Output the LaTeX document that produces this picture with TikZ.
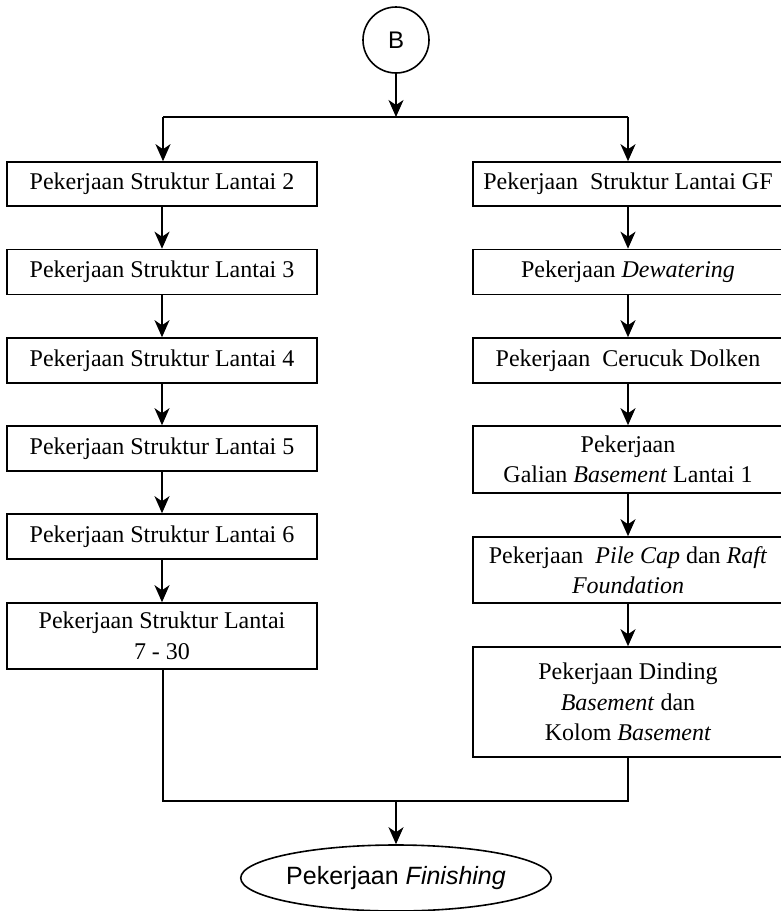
\documentclass[tikz,border=0pt]{standalone}
\usepackage{fontspec}
\setmainfont{Liberation Serif}
\newfontfamily\sansf{Liberation Sans}
\usetikzlibrary{arrows.meta,shapes.geometric}
\begin{document}
\begin{tikzpicture}[x=1pt,y=-1pt,
  line width=1.6pt,
  arr/.style={-{Stealth[length=17pt,width=15pt,inset=5pt]}},
  box/.style={draw,rectangle,minimum width=310pt,inner sep=0pt,align=center,
    font=\fontsize{24}{30.5}\selectfont},
]
\useasboundingbox (0,0) rectangle (780,911);
\node[draw,circle,minimum size=66pt,inner sep=0pt,font=\sansf\fontsize{24}{28}\selectfont] (B) at (396,40) {B};
\node[draw,ellipse,minimum width=266pt,minimum height=66pt,inner sep=0pt,font=\sansf\fontsize{25}{30}\selectfont] (F) at (396,878) {Pekerjaan \textit{Finishing}};

\node[box,minimum height=44pt] (L1) at (162,184) {Pekerjaan Struktur Lantai 2};
\node[box,minimum height=45pt] (L2) at (162,272) {Pekerjaan Struktur Lantai 3};
\node[box,minimum height=45pt] (L3) at (162,360.5) {Pekerjaan Struktur Lantai 4};
\node[box,minimum height=45pt] (L4) at (162,448.5) {Pekerjaan Struktur Lantai 5};
\node[box,minimum height=45pt] (L5) at (162,536.5) {Pekerjaan Struktur Lantai 6};
\node[box,minimum height=66pt] (L6) at (162,636) {Pekerjaan Struktur Lantai\\7 - 30};

\node[box,minimum height=44pt] (R1) at (628,184) {Pekerjaan\ \ Struktur Lantai GF};
\node[box,minimum height=45pt] (R2) at (628,272) {Pekerjaan \textit{Dewatering}};
\node[box,minimum height=45pt] (R3) at (628,360.5) {Pekerjaan\ \ Cerucuk Dolken};
\node[box,minimum height=67pt] (R4) at (628,459.5) {Pekerjaan\\Galian \textit{Basement} Lantai 1};
\node[box,minimum height=66pt] (R5) at (628,570) {Pekerjaan\ \ \textit{Pile Cap} dan \textit{Raft}\\\textit{Foundation}};
\node[box,minimum height=110pt] (R6) at (628,702) {Pekerjaan Dinding\\\textit{Basement} dan\\Kolom \textit{Basement}};

\coordinate (jt) at (396,117);
\coordinate (jl) at (163,117);
\coordinate (jr) at (628,117);
\coordinate (bl) at (163,801);
\coordinate (br) at (628,801);
\coordinate (bm) at (396,801);

\draw[arr] (B) -- (jt);
\draw (jl) -- (jr);
\draw[arr] (jl) -- (jl |- L1.north);
\draw[arr] (jr) -- (R1);
\foreach \a/\b in {L1/L2,L2/L3,L3/L4,L4/L5,L5/L6,R1/R2,R2/R3,R3/R4,R4/R5,R5/R6}
  \draw[arr] (\a) -- (\b);
\draw (L6.south -| bl) -- (bl) -- (br) -- (R6);
\draw[arr] (bm) -- (bm |- F.north);
\end{tikzpicture}
\end{document}
